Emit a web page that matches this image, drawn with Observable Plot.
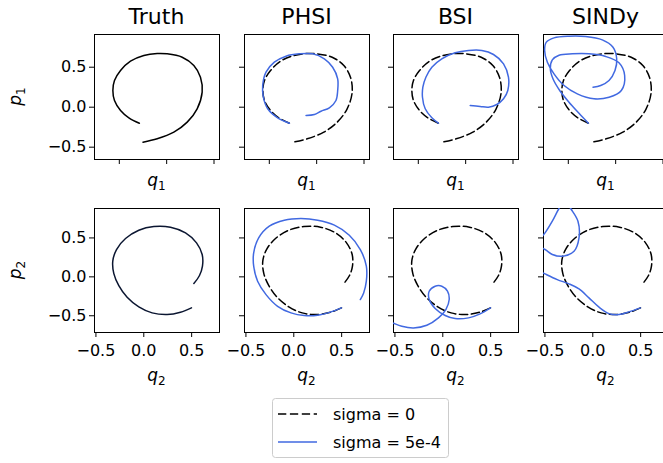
<!DOCTYPE html>
<html>
<head>
<meta charset="utf-8">
<script src="https://cdn.jsdelivr.net/npm/d3@7"></script>
<script src="https://cdn.jsdelivr.net/npm/@observablehq/plot@0.6"></script>
<style>
  html, body { margin: 0; padding: 0; background: #fff; }
  #fig { position: relative; width: 663px; height: 463px; overflow: hidden; background: #fff;
         font-family: "DejaVu Sans", sans-serif; }
  #fig svg { position: absolute; }
</style>
</head>
<body>
<div id="fig"></div>
<script>
// Column titles and tick values
const methods = ["Truth", "PHSI", "BSI", "SINDy"];
const tickValues = [-0.5, 0, 0.5];
const legendLabels = ["sigma = 0", "sigma = 5e-4"];

// First oscillator (q1, p1) phase portraits
const truthQ1 = [-0.288, -0.399, -0.487, -0.551, -0.568, -0.551, -0.487, -0.382, -0.241, -0.100, 0.005, 0.164, 0.287, 0.357, 0.375, 0.322, 0.217, 0.076, -0.100, -0.250];
const truthP1 = [-0.200, -0.133, -0.041, 0.084, 0.209, 0.334, 0.459, 0.575, 0.646, 0.671, 0.667, 0.625, 0.521, 0.375, 0.188, -0.020, -0.187, -0.312, -0.395, -0.437];
const phsiQ1 = [-0.288, -0.412, -0.517, -0.563, -0.570, -0.535, -0.447, -0.324, -0.183, -0.042, 0.081, 0.169, 0.222, 0.222, 0.204, 0.134, 0.046, -0.024, -0.112];
const phsiP1 = [-0.200, -0.133, -0.020, 0.125, 0.271, 0.438, 0.563, 0.638, 0.667, 0.667, 0.605, 0.500, 0.355, 0.209, 0.084, -0.008, -0.050, -0.091, -0.104];
const bsiQ1 = [-0.288, -0.357, -0.427, -0.456, -0.452, -0.420, -0.357, -0.252, -0.111, 0.030, 0.171, 0.294, 0.400, 0.452, 0.445, 0.400, 0.329, 0.241, 0.153, 0.048];
const bsiP1 = [-0.200, -0.133, -0.020, 0.125, 0.250, 0.375, 0.500, 0.605, 0.680, 0.709, 0.709, 0.659, 0.542, 0.375, 0.209, 0.105, 0.034, 0.000, 0.009, 0.021];
const sindyQ1 = [-0.288, -0.387, -0.493, -0.591, -0.662, -0.690, -0.669, -0.598, -0.457, -0.281, -0.105, 0.035, 0.095, 0.060, -0.070, -0.229, -0.405, -0.545, -0.651, -0.721, -0.750, -0.732, -0.651, -0.493, -0.317, -0.141, -0.028, 0.011, -0.007, -0.070, -0.158, -0.239];
const sindyP1 = [-0.200, -0.075, 0.063, 0.209, 0.355, 0.480, 0.592, 0.650, 0.667, 0.667, 0.634, 0.555, 0.396, 0.209, 0.125, 0.105, 0.167, 0.271, 0.417, 0.563, 0.709, 0.813, 0.867, 0.888, 0.884, 0.842, 0.750, 0.605, 0.459, 0.334, 0.271, 0.250];

// Second oscillator (q2, p2) phase portraits
const truthQ2 = [0.498, 0.383, 0.244, 0.087, -0.052, -0.174, -0.261, -0.313, -0.324, -0.285, -0.191, -0.052, 0.105, 0.279, 0.436, 0.551, 0.610, 0.613, 0.582, 0.523];
const truthP2 = [-0.399, -0.455, -0.485, -0.463, -0.386, -0.262, -0.112, 0.042, 0.201, 0.351, 0.492, 0.599, 0.647, 0.638, 0.565, 0.437, 0.287, 0.137, 0.017, -0.086];
const phsiQ2 = [0.498, 0.389, 0.249, 0.110, -0.029, -0.169, -0.290, -0.378, -0.419, -0.419, -0.367, -0.256, -0.099, 0.075, 0.249, 0.424, 0.580, 0.695, 0.758, 0.758, 0.730, 0.695];
const phsiP2 = [-0.399, -0.450, -0.493, -0.497, -0.463, -0.378, -0.228, -0.056, 0.137, 0.308, 0.501, 0.651, 0.728, 0.749, 0.728, 0.664, 0.535, 0.351, 0.137, -0.056, -0.206, -0.292];
const bsiQ2 = [0.498, 0.390, 0.269, 0.129, 0.025, -0.080, -0.142, -0.142, -0.080, -0.010, 0.049, 0.067, 0.032, -0.045, -0.167, -0.306, -0.428, -0.515, -0.602];
const bsiP2 = [-0.399, -0.476, -0.527, -0.536, -0.497, -0.407, -0.292, -0.185, -0.120, -0.120, -0.185, -0.292, -0.420, -0.527, -0.622, -0.656, -0.635, -0.596, -0.549];
const sindyQ2 = [0.498, 0.378, 0.274, 0.169, 0.065, -0.040, -0.144, -0.249, -0.371, -0.499, -0.600, -0.680, -0.680, -0.600, -0.499, -0.423, -0.318, -0.196, -0.144, -0.155, -0.231, -0.270, -0.310, -0.353, -0.423, -0.499, -0.560];
const sindyP2 = [-0.399, -0.450, -0.485, -0.472, -0.390, -0.270, -0.155, -0.090, -0.035, 0.038, 0.100, 0.200, 0.330, 0.400, 0.351, 0.287, 0.265, 0.329, 0.501, 0.715, 0.878, 0.950, 0.950, 0.878, 0.715, 0.565, 0.480];

const rows = [
  { truth: [truthQ1, truthP1], fits: [null, [phsiQ1, phsiP1], [bsiQ1, bsiP1], [sindyQ1, sindyP1]],
    xDomain: [-0.762, 0.558], yDomain: [-0.654, 0.909], q: "1" },
  { truth: [truthQ2, truthP2], fits: [null, [phsiQ2, phsiP2], [bsiQ2, bsiP2], [sindyQ2, sindyP2]],
    xDomain: [-0.515, 0.791], yDomain: [-0.715, 0.878], q: "2" }
];

// Layout of the panel grid
const colLeft = [94, 244, 393, 543];
const panelW = 125;
const rowTop = [34, 208];
const rowH = [125, 124];
const ML = 60, MR = 6, MT = 6, MB = 40;
const BLUE = "#4169e1";
const DASH = "8.3,3.6";

const fmt = d => (d < 0 ? "\u2212" : "") + Math.abs(d).toFixed(1);
const fig = document.getElementById("fig");

rows.forEach((row, r) => {
  methods.forEach((m, c) => {
    const [tx, ty] = row.truth;
    const marks = [
      Plot.frame({stroke: "black", strokeWidth: 1}),
      Plot.axisX({anchor: "bottom", ticks: tickValues, tickSize: 5, tickPadding: 7, tickFormat: fmt,
                  fontSize: 16, label: null, stroke: "black", ...(r === 0 ? {fill: "none"} : {fill: "black"})}),
      Plot.axisY({anchor: "left", ticks: tickValues, tickSize: 5, tickPadding: 3, tickFormat: fmt,
                  fontSize: 16, label: null, stroke: "black", ...(c > 0 ? {fill: "none"} : {fill: "black"})}),
      Plot.line({length: tx.length}, {
        x: tx, y: ty, curve: "catmull-rom", clip: true, strokeWidth: 1.5,
        stroke: c === 0 ? (r === 0 ? "black" : "#0b1631") : "black",
        strokeDasharray: c === 0 ? null : DASH
      })
    ];
    const fit = row.fits[c];
    if (fit) {
      marks.push(Plot.line({length: fit[0].length}, {
        x: fit[0], y: fit[1], curve: "catmull-rom", clip: true, stroke: BLUE, strokeWidth: 1.5
      }));
    }
    const svg = Plot.plot({
      width: ML + panelW + MR,
      height: MT + rowH[r] + MB,
      marginLeft: ML, marginRight: MR, marginTop: MT, marginBottom: MB,
      x: {domain: row.xDomain},
      y: {domain: row.yDomain},
      style: {background: "transparent", overflow: "visible", fontFamily: "DejaVu Sans", fontSize: "16px", color: "black"},
      marks
    });
    svg.style.left = (colLeft[c] - ML) + "px";
    svg.style.top = (rowTop[r] - MT) + "px";
    svg.style.maxWidth = "none";
    fig.appendChild(svg);
  });
});

// Titles, axis labels and legend
const over = d3.select(fig).append("svg")
  .attr("width", 663).attr("height", 463)
  .style("left", "0px").style("top", "0px")
  .attr("font-family", "DejaVu Sans");

methods.forEach((m, c) => {
  over.append("text").attr("x", colLeft[c] + panelW / 2).attr("y", 24)
    .attr("text-anchor", "middle").attr("font-size", 22).attr("fill", "black").text(m);
});

const labelBase = [186, 381];
rows.forEach((row, r) => {
  methods.forEach((m, c) => {
    const t = over.append("text").attr("x", colLeft[c] + panelW / 2).attr("y", labelBase[r])
      .attr("text-anchor", "middle").attr("font-size", 17).attr("fill", "black");
    t.append("tspan").attr("font-style", "italic").text("q");
    t.append("tspan").attr("font-size", 12).attr("dy", 3.5).text(row.q);
  });
  const t = over.append("text")
    .attr("transform", `translate(21,${rowTop[r] + rowH[r] / 2}) rotate(-90)`)
    .attr("text-anchor", "middle").attr("font-size", 17).attr("fill", "black");
  t.append("tspan").attr("font-style", "italic").text("p");
  t.append("tspan").attr("font-size", 12).attr("dy", 3.5).text(row.q);
});

const lg = over.append("g");
lg.append("rect").attr("x", 272.5).attr("y", 398.5).attr("width", 176).attr("height", 59).attr("rx", 3)
  .attr("fill", "white").attr("fill-opacity", 0.8).attr("stroke", "#cccccc");
legendLabels.forEach((lab, i) => {
  const y = 414 + i * 28;
  lg.append("line").attr("x1", 278).attr("x2", 317).attr("y1", y).attr("y2", y)
    .attr("stroke", i === 0 ? "black" : BLUE).attr("stroke-width", 1.5)
    .attr("stroke-dasharray", i === 0 ? DASH : null);
  lg.append("text").attr("x", 333).attr("y", y + 5.8).attr("font-size", 16).attr("fill", "black").text(lab);
});
</script>
</body>
</html>
